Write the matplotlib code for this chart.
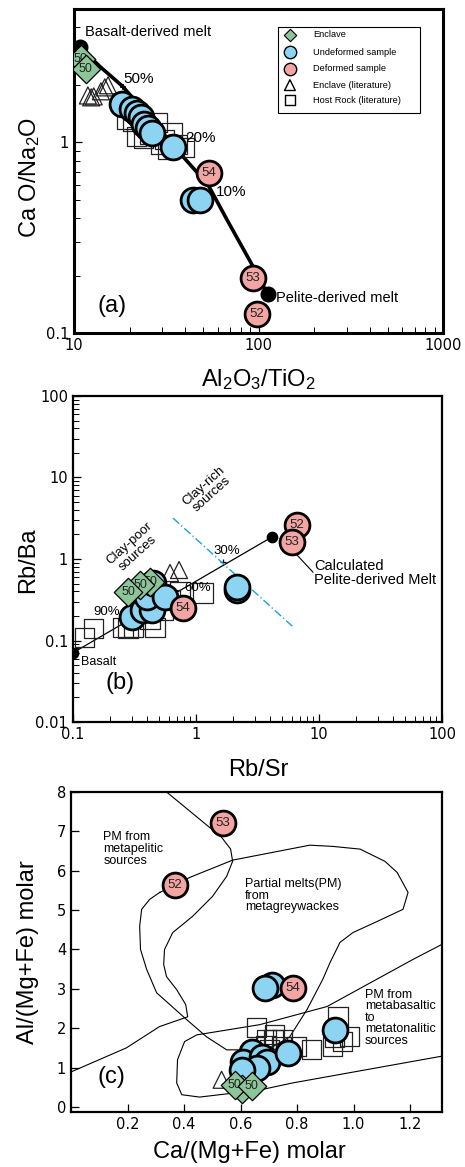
import matplotlib
matplotlib.use("Agg")
import matplotlib.pyplot as plt
from matplotlib.patches import Rectangle

plt.rcParams['font.family'] = ['Liberation Sans', 'DejaVu Sans']
plt.rcParams['mathtext.default'] = 'regular'

BLUE = '#8dd3f2'
PINK = '#f2a5a3'
GREEN = '#8cc597'
DASH_BLUE = '#1aa3e0'

# ---------------- panel (a) data: Al2O3/TiO2 vs CaO/Na2O ----------------
a_mix_x = [10.8, 13.8, 18.4, 39.0, 53.2, 67.4, 92.2, 112]
a_mix_y = [3.15, 2.50, 1.96, 0.84, 0.60, 0.393, 0.228, 0.160]

a_und_x = [18.2, 20.6, 21.9, 23.1, 24.0, 25.2, 26.5, 34.4, 44.2, 48.2]
a_und_y = [1.58, 1.49, 1.42, 1.35, 1.25, 1.19, 1.12, 0.95, 0.50, 0.50]

a_def_x = [53.9, 93.3, 98.2]
a_def_y = [0.693, 0.194, 0.126]
a_def_lab = ['54', '53', '52']

a_enc_x = [10.9, 11.6]
a_enc_y = [2.72, 2.41]
a_enc_lab = ['50', '50']

a_tri_x = [11.9, 12.4, 12.8, 14.0, 14.7, 15.3]
a_tri_y = [1.76, 1.72, 1.74, 1.85, 1.94, 1.99]

a_sq_x = [19.4, 20.9, 21.9, 23.7, 25.8, 28.2, 29.3, 31.1, 34.0, 36.2, 39.5, 32.3]
a_sq_y = [1.32, 1.28, 1.07, 1.045, 1.10, 1.27, 0.97, 1.03, 1.12, 0.97, 0.938, 0.915]

leg_labels = ['Enclave', 'Undeformed sample', 'Deformed sample',
              'Enclave (literature)', 'Host Rock (literature)']

# ---------------- panel (b) data: Rb/Sr vs Rb/Ba ----------------
b_mix_x = [0.1, 4.12]
b_mix_y = [0.0708, 1.85]

b_und_x = [0.302, 0.371, 0.439, 0.400, 0.447, 0.560, 2.15, 2.15]
b_und_y = [0.194, 0.237, 0.237, 0.342, 0.508, 0.342, 0.417, 0.453]

b_def_x = [6.62, 6.03, 0.784]
b_def_y = [2.61, 1.62, 0.251]
b_def_lab = ['52', '53', '54']

b_enc_x = [0.423, 0.351, 0.280]
b_enc_y = [0.522, 0.480, 0.394]
b_enc_lab = ['50', '50', '50']

b_tri_x = [0.615, 0.728]
b_tri_y = [0.673, 0.733]

b_sq_x = [0.125, 0.146, 0.255, 0.28, 0.308, 0.464, 0.423, 0.539, 0.615, 0.741, 1.14]
b_sq_y = [0.110, 0.142, 0.146, 0.142, 0.146, 0.146, 0.179, 0.237, 0.314, 0.394, 0.383]

b_clay_x = [0.65, 6.15]
b_clay_y = [3.18, 0.147]

# ---------------- panel (c) data: Ca/(Mg+Fe) vs Al/(Mg+Fe) ----------------
c_pel_x = [0.33, 0.533, 0.565, 0.572, 0.551, 0.501, 0.430, 0.360, 0.331, 0.328,
           0.338, 0.374, 0.406, 0.413, 0.313, 0.196, -0.006]
c_pel_y = [8.05, 6.85, 6.55, 6.24, 5.86, 5.35, 4.84, 4.43, 4.00, 3.62,
           3.31, 2.98, 2.60, 2.29, 2.04, 1.50, 0.87]

c_gw_x = [0.314, 0.367, 0.420, 0.572, 0.845, 0.925, 1.023, 1.111, 1.154, 1.193,
          1.175, 1.083, 0.998, 0.952, 0.917, 0.891, 0.835, 0.774, 0.714, 0.622,
          0.551, 0.480, 0.409, 0.303, 0.268, 0.246, 0.243, 0.250, 0.278, 0.314]
c_gw_y = [5.45, 5.63, 5.83, 6.27, 6.65, 6.62, 6.55, 6.24, 5.96, 5.45,
          5.02, 4.71, 4.43, 4.18, 3.67, 3.24, 2.47, 1.78, 1.53, 1.45,
          1.45, 1.78, 2.22, 2.90, 3.49, 4.00, 4.59, 5.02, 5.27, 5.45]

c_mb_x = [1.313, 1.211, 0.906, 0.668, 0.445, 0.402, 0.377, 0.374, 0.392, 0.455,
          0.668, 0.785, 1.313]
c_mb_y = [4.13, 3.75, 2.55, 2.09, 1.83, 1.66, 1.20, 0.61, 0.31, 0.25,
          0.43, 0.61, 1.29]

c_und_x = [0.640, 0.608, 0.675, 0.693, 0.657, 0.604, 0.767, 0.934, 0.711, 0.686]
c_und_y = [1.40, 1.15, 1.27, 1.15, 0.99, 0.94, 1.38, 1.96, 3.11, 3.01]

c_def_x = [0.537, 0.367, 0.785]
c_def_y = [7.21, 5.63, 3.03]
c_def_lab = ['53', '52', '54']

c_enc_x = [0.605, 0.580, 0.640]
c_enc_y = [0.45, 0.56, 0.54]
c_enc_lab = ['', '50', '50']

c_tri_x = [0.533]
c_tri_y = [0.69]

c_sq_x = [0.658, 0.693, 0.690, 0.718, 0.750, 0.746, 0.799, 0.852, 0.945, 0.934,
          0.927, 0.962, 0.987, 0.704, 0.721]
c_sq_y = [2.01, 1.71, 1.55, 1.71, 1.71, 1.53, 1.53, 1.45, 2.29, 1.76,
          1.53, 1.66, 1.78, 1.45, 1.83]

SC = 320   # circle size
SD = 210   # diamond size


def samples(ax, sq, tri, und, dfm, enc):
    ax.scatter(sq[0], sq[1], marker='s', s=190, facecolors='none',
               edgecolors='#222222', linewidths=0.9, zorder=3)
    ax.scatter(tri[0], tri[1], marker='^', s=150, facecolors='none',
               edgecolors='#222222', linewidths=0.9, zorder=3)
    ax.scatter(und[0], und[1], marker='o', s=SC, c=BLUE,
               edgecolors='k', linewidths=2.0, zorder=4)
    ax.scatter(dfm[0], dfm[1], marker='o', s=SC, c=PINK,
               edgecolors='k', linewidths=2.0, zorder=5)
    for x, y, t in zip(dfm[0], dfm[1], dfm[2]):
        ax.text(x, y, t, ha='center', va='center', fontsize=9.5, color='#222222', zorder=6)
    for x, y, t in zip(enc[0], enc[1], enc[2]):
        ax.scatter([x], [y], marker='D', s=SD, c=GREEN, edgecolors='k',
                   linewidths=0.9, zorder=7)
        ax.text(x, y, t, ha='center', va='center', fontsize=9, color='#222222', zorder=7)


def frame(ax, lw, xl, yl):
    for sp in ax.spines.values():
        sp.set_linewidth(lw)
    ax.tick_params(which='both', direction='in', top=False, right=False,
                   labelsize=10.5)
    ax.tick_params(which='major', length=6, width=0.9)
    ax.tick_params(which='minor', length=4, width=0.7)
    for lab in ax.get_xticklabels() + ax.get_yticklabels():
        lab.set_family('DejaVu Sans')
    ax.xaxis.label.set_va('center')
    ax.yaxis.label.set_va('center')
    ax.xaxis.set_label_coords(*xl)
    ax.yaxis.set_label_coords(*yl)


fig = plt.figure(figsize=(4.65, 11.67), dpi=100)

# ---------------- (a) ----------------
ax = fig.add_axes([0.159, 0.7147, 0.794, 0.2776])
ax.set_xscale('log')
ax.set_yscale('log')
ax.set_xlim(10, 1000)
ax.set_ylim(0.1, 5.0)
ax.plot(a_mix_x, a_mix_y, color='k', lw=2.6, zorder=2, solid_capstyle='round')
ax.scatter([a_mix_x[0], a_mix_x[-1]], [a_mix_y[0], a_mix_y[-1]], s=110, c='k', zorder=2)
ax.plot([18.4], [1.96], marker='+', color='k', ms=5, mew=1.2, zorder=2)
samples(ax, (a_sq_x, a_sq_y), (a_tri_x, a_tri_y), (a_und_x, a_und_y),
        (a_def_x, a_def_y, a_def_lab), (a_enc_x, a_enc_y, a_enc_lab))
ax.set_xticks([10, 100, 1000])
ax.set_xticklabels(['10', '100', '1000'])
ax.set_yticks([0.1, 1])
ax.set_yticklabels(['0.1', '1'])
ax.text(11.5, 3.8, 'Basalt-derived melt', fontsize=10.5, va='center')
ax.text(18.6, 2.05, '50%', fontsize=11)
ax.text(40, 1.0, '20%', fontsize=11)
ax.text(59, 0.52, '10%', fontsize=11)
ax.text(124, 0.152, 'Pelite-derived melt', fontsize=10.5, va='center')
ax.text(16.1, 0.139, '(a)', fontsize=17, ha='center', va='center')
ax.set_xlabel('Al$_2$O$_3$/TiO$_2$', fontsize=17)
ax.set_ylabel('Ca O/Na$_2$O', fontsize=17)
frame(ax, 2.2, (0.4987, -0.145), (-0.119, 0.48))

# legend box drawn by hand, in axes fractions
ax.add_patch(Rectangle((0.553, 0.679), 0.385, 0.265, transform=ax.transAxes,
                       facecolor='white', edgecolor='k', lw=0.8, zorder=8))
leg_y = [0.920, 0.867, 0.815, 0.765, 0.719]
leg_style = [
    dict(marker='D', s=40, c=GREEN, edgecolors='k', linewidths=0.8),
    dict(marker='o', s=80, c=BLUE, edgecolors='k', linewidths=1.0),
    dict(marker='o', s=80, c=PINK, edgecolors='k', linewidths=1.0),
    dict(marker='^', s=60, facecolors='none', edgecolors='k', linewidths=1.0),
    dict(marker='s', s=60, facecolors='none', edgecolors='k', linewidths=1.0),
]
for yy, lab, st in zip(leg_y, leg_labels, leg_style):
    ax.scatter([0.585], [yy], transform=ax.transAxes, zorder=9, clip_on=False, **st)
    ax.text(0.648, yy, lab, transform=ax.transAxes, fontsize=6.7, va='center', zorder=9)

# ---------------- (b) ----------------
ax = fig.add_axes([0.157, 0.3813, 0.7935, 0.2794])
ax.set_xscale('log')
ax.set_yscale('log')
ax.set_xlim(0.1, 100)
ax.set_ylim(0.01, 100)
ax.plot(b_mix_x, b_mix_y, color='k', lw=0.9, zorder=2)
ax.scatter(b_mix_x, b_mix_y, s=55, c='k', zorder=2)
ax.plot([1.66], [0.92], marker='+', color='k', ms=5, mew=0.9, zorder=2)
ax.plot(b_clay_x, b_clay_y, color=DASH_BLUE, lw=1.0, ls=(0, (6, 2, 1, 2)), zorder=2)
samples(ax, (b_sq_x, b_sq_y), (b_tri_x, b_tri_y), (b_und_x, b_und_y),
        (b_def_x, b_def_y, b_def_lab), (b_enc_x, b_enc_y, b_enc_lab))
ax.set_xticks([0.1, 1, 10, 100])
ax.set_xticklabels(['0.1', '1', '10', '100'])
ax.set_yticks([0.01, 0.1, 1, 10, 100])
ax.set_yticklabels(['0.01', '0.1', '1', '10', '100'])
ax.text(0.116, 0.0545, 'Basalt', fontsize=9, va='center')
ax.text(0.189, 0.224, '90%', fontsize=9.5, ha='center', va='center')
ax.text(1.04, 0.44, '60%', fontsize=9.5, ha='center', va='center')
ax.text(1.79, 1.25, '30%', fontsize=9.5, ha='center', va='center')
ax.text(1.25, 7.0, 'Clay-rich\nsources', fontsize=9.5, rotation=42,
        ha='center', va='center', linespacing=1.0)
ax.text(0.31, 1.35, 'Clay-poor\nsources', fontsize=9.5, rotation=42,
        ha='center', va='center', linespacing=1.0)
ax.plot([6.62, 8.93], [1.12, 0.69], color='k', lw=0.8, zorder=1)
ax.text(9.1, 1.0, 'Calculated\nPelite-derived Melt', fontsize=10.5, va='top',
        linespacing=1.0)
ax.text(0.241, 0.030, '(b)', fontsize=17, ha='center', va='center')
ax.set_xlabel('Rb/Sr', fontsize=17)
ax.set_ylabel('Rb/Ba', fontsize=17)
frame(ax, 1.6, (0.501, -0.147), (-0.122, 0.497))

# ---------------- (c) ----------------
ax = fig.add_axes([0.1527, 0.0471, 0.7978, 0.2742])
ax.set_xlim(0, 1.313)
ax.set_ylim(-0.13, 8.0)
ax.plot(c_pel_x, c_pel_y, color='k', lw=0.8, zorder=2)
ax.plot(c_gw_x, c_gw_y, color='k', lw=0.8, zorder=2)
ax.plot(c_mb_x, c_mb_y, color='k', lw=0.8, zorder=2)
samples(ax, (c_sq_x, c_sq_y), (c_tri_x, c_tri_y), (c_und_x, c_und_y),
        (c_def_x, c_def_y, c_def_lab), (c_enc_x, c_enc_y, c_enc_lab))
ax.set_xticks([0.2, 0.4, 0.6, 0.8, 1.0, 1.2])
ax.set_xticklabels(['0.2', '0.4', '0.6', '0.8', '1.0', '1.2'])
ax.set_yticks(range(0, 9))
ax.text(0.115, 7.0, 'PM from\nmetapelitic\nsources', fontsize=9, va='top', linespacing=0.95)
ax.text(0.615, 5.81, 'Partial melts(PM)\nfrom\nmetagreywackes', fontsize=9, va='top',
        linespacing=0.95)
ax.text(1.04, 3.0, 'PM from\nmetabasaltic\nto\nmetatonalitic\nsources', fontsize=9,
        va='top', linespacing=0.95)
ax.text(0.143, 0.76, '(c)', fontsize=17, ha='center', va='center')
ax.set_xlabel('Ca/(Mg+Fe) molar', fontsize=17)
ax.set_ylabel('Al/(Mg+Fe) molar', fontsize=17)
frame(ax, 1.6, (0.482, -0.125), (-0.116, 0.5))

fig.savefig('out.png', dpi=100)
